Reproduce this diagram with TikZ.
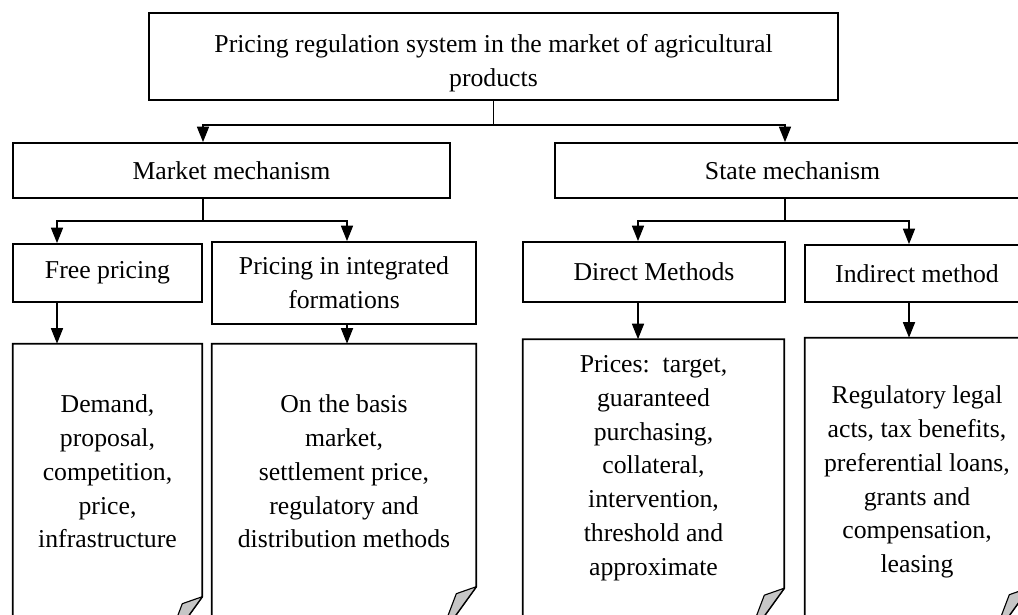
\documentclass[tikz,border=0pt]{standalone}
\usepackage{fontspec}
\setmainfont{Liberation Serif}
\usetikzlibrary{arrows.meta}
\newcommand{\pagecurl}[2]{% #1 page node, #2 drop of the curled corner
  \path (#1.north east) ++(0,#2) coordinate (#1-a);
  \draw[pageline] (#1.north west) -- (#1.north east) -- (#1-a) -- ++(-36,50) coordinate (#1-b)
    -- (#1.north west |- #1-b) -- cycle;
  \filldraw[curlflap] (#1-a) -- ++(-20,7) -- ++(-11,29) -- ++(5,0) -- cycle;
}
\tikzset{
  textfont/.style={font=\fontsize{18.3}{24}\selectfont},
  mainbox/.style={draw, line width=1.2pt, align=center, inner sep=0pt, textfont},
  pagebox/.style={align=center, inner sep=0pt, textfont},
  pageline/.style={line width=1.2pt},
  curlflap/.style={fill=gray!45, draw=black, line width=0.8pt, line join=round},
  link/.style={line width=1.2pt},
  arrow/.style={link, -{Triangle[length=11pt, width=8.5pt]}}
}
\begin{document}
\begin{tikzpicture}[x=0.025cm, y=-0.025cm]
  \useasboundingbox (0,0) rectangle (1018,615);
  \clip (0,0) rectangle (1018,615);

  % branch columns
  \coordinate (x-mk) at (203,0);
  \coordinate (x-st) at (785,0);
  \coordinate (x-fp) at (57,0);
  \coordinate (x-pi) at (347,0);
  \coordinate (x-dm) at (638,0);
  \coordinate (x-im) at (909,0);

  \node[mainbox, minimum width=17.225cm, minimum height=2.175cm] (system) at (493.5,56.5)
    {\rule{0pt}{22pt}Pricing regulation system in the market of agricultural\\products};

  \node[mainbox, minimum width=10.925cm, minimum height=1.375cm] (market) at (231.5,170.5) {Market mechanism};
  \node[mainbox, minimum width=11.875cm, minimum height=1.375cm] (state) at (792.5,170.5) {State mechanism};

  \node[mainbox, minimum width=4.725cm, minimum height=1.45cm] (free) at (107.5,273) {Free pricing};
  \node[mainbox, minimum width=6.6cm, minimum height=2.05cm] (integ) at (344,283) {Pricing in integrated\\formations};
  \node[mainbox, minimum width=6.55cm, minimum height=1.5cm] (direct) at (654,272) {Direct Methods};
  \node[mainbox, minimum width=5.6cm, minimum height=1.425cm] (indirect) at (917,273.5) {Indirect method};

  \node[pagebox, minimum width=4.725cm, minimum height=6.375cm] (freedoc) at (107.5,471.5)
    {Demand,\\proposal,\\competition,\\price,\\infrastructure};
  \node[pagebox, minimum width=6.6cm, minimum height=6.375cm] (integdoc) at (344,471.5)
    {On the basis\\market,\\settlement price,\\regulatory and\\distribution methods};
  \node[pagebox, minimum width=6.525cm, minimum height=6.425cm] (directdoc) at (653.5,468)
    {Prices:\ \ target,\\guaranteed\\purchasing,\\collateral,\\intervention,\\threshold and\\approximate};
  \node[pagebox, minimum width=5.6cm, minimum height=7.2cm] (indirectdoc) at (917,482)
    {Regulatory legal\\acts, tax benefits,\\preferential loans,\\grants and\\compensation,\\leasing};

  \pagecurl{freedoc}{253}
  \pagecurl{integdoc}{243}
  \pagecurl{directdoc}{249}
  \pagecurl{indirectdoc}{250}

  \draw[link] (system.south) -- ++(0,24) coordinate (b1);
  \draw[arrow] (b1) -| (market.north -| x-mk);
  \draw[arrow] (b1) -| (state.north -| x-st);

  \draw[link] (market.south -| x-mk) -- ++(0,22) coordinate (b2);
  \draw[arrow] (b2) -| (free.north -| x-fp);
  \draw[arrow] (b2) -| (integ.north -| x-pi);

  \draw[link] (state.south -| x-st) -- ++(0,22) coordinate (b3);
  \draw[arrow] (b3) -| (direct.north -| x-dm);
  \draw[arrow] (b3) -| (indirect.north -| x-im);

  \draw[arrow] (free.south -| x-fp) -- (freedoc.north -| x-fp);
  \draw[arrow] (integ.south -| x-pi) -- (integdoc.north -| x-pi);
  \draw[arrow] (direct.south -| x-dm) -- (directdoc.north -| x-dm);
  \draw[arrow] (indirect.south -| x-im) -- (indirectdoc.north -| x-im);
\end{tikzpicture}
\end{document}
